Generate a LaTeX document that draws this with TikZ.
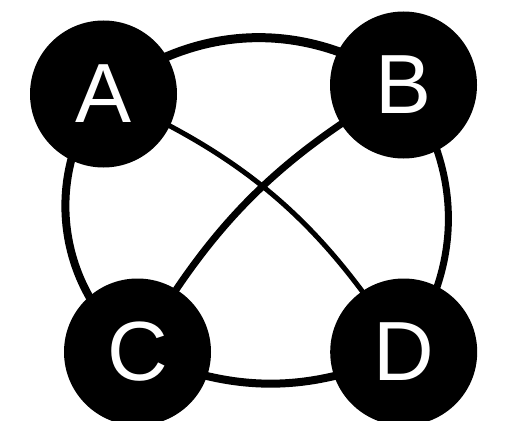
\documentclass[tikz,border=0pt]{standalone}
\usepackage{fontspec}
\setmainfont{Liberation Sans}
\usepackage{tikz}
\usetikzlibrary{backgrounds}

\begin{document}
\begin{tikzpicture}[
        x=1pt, y=1pt,
        vertice/.style={circle,fill=black,text=white,inner sep=0pt,minimum size=147pt,font=\fontsize{84}{84}\selectfont},
        aresta/.style={draw=black,line width=#1},
        aresta/.default=8pt
    ]
        \useasboundingbox (0,0) rectangle (513,-420);
        \node[vertice] (A) at (103.5,-94) {A};
        \node[vertice] (B) at (403.5,-85) {B};
        \node[vertice] (C) at (137.5,-352) {C};
        \node[vertice] (D) at (403.7,-352) {D};

        \begin{pgfonlayer}{background}
            \draw[aresta=9pt] (A.center) to[bend left=36] (B.center);
            \draw[aresta=7pt] (B.center) to[bend left=35] (D.center);
            \draw[aresta=8pt] (D.center) to[bend left=24] (C.center);
            \draw[aresta=8pt] (C.center) to[bend left=45] (A.center);
            \draw[aresta=5pt] (A.center) to[bend left=17] (D.center);
            \draw[aresta=7pt] (B.center) to[bend right=15] (C.center);
        \end{pgfonlayer}
    \end{tikzpicture}
\end{document}
